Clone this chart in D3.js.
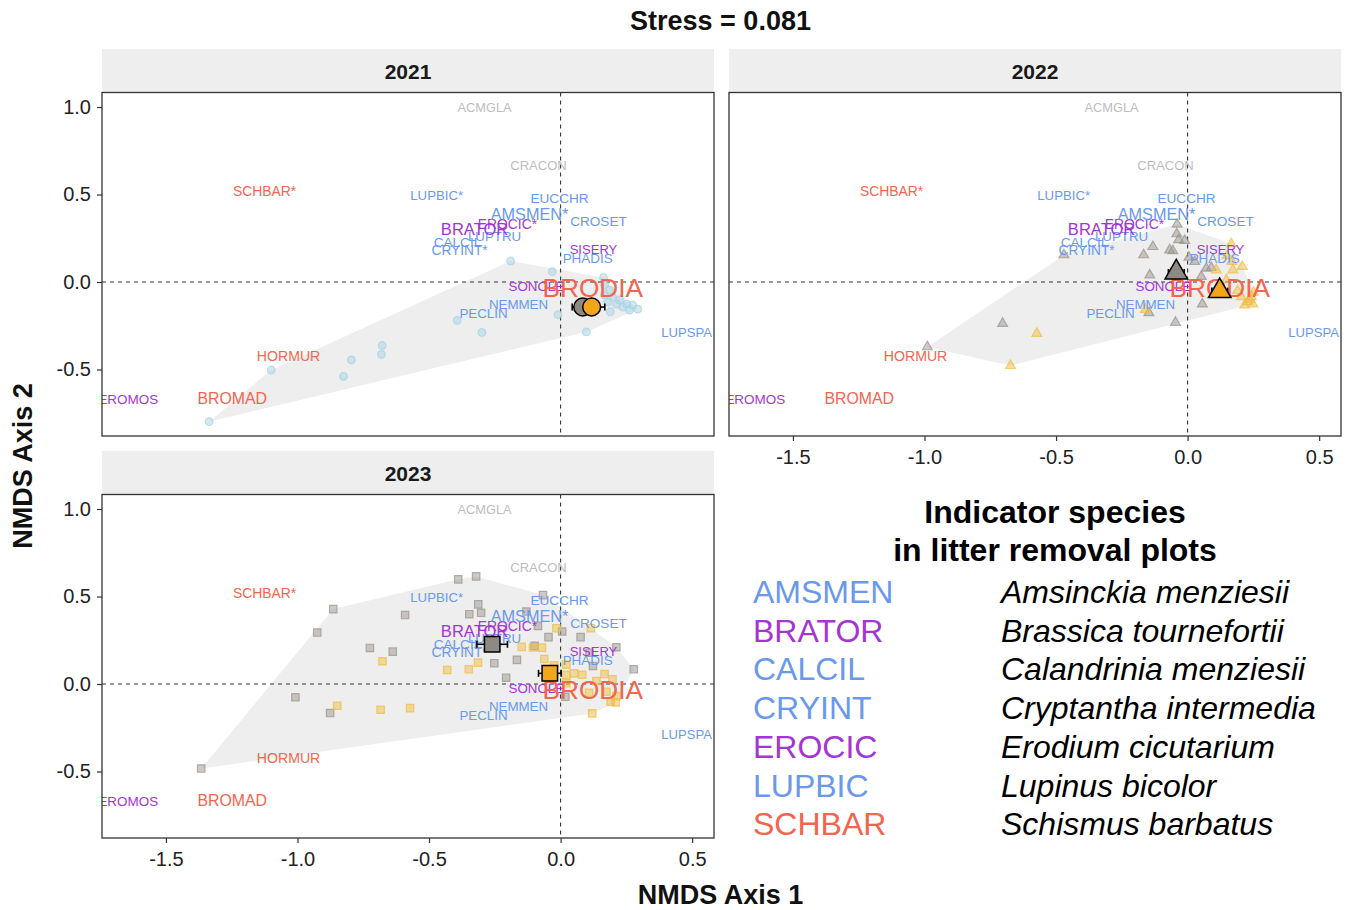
<!DOCTYPE html>
<html><head><meta charset="utf-8">
<script src="https://cdn.jsdelivr.net/npm/d3@7"></script>
<style>
body{margin:0;background:#fff;}
text{font-family:"Liberation Sans",Arial,Helvetica,sans-serif;}
</style>
</head><body>
<svg id="chart" width="1349" height="910"></svg>
<script>
// ---------------- DATA ----------------
const years = ["2021", "2022", "2023"];
const xTicks = [-1.5, -1.0, -0.5, 0.0, 0.5];
const yTicks = [1.0, 0.5, 0.0, -0.5];
const stressValue = 0.081;

// species scores (same in every panel)
const speciesCodes  = ["ACMGLA","CRACON","SCHBAR*","LUPBIC*","EUCCHR","CROSET","LUPTRU","CALCIL","CRYINT*","EROCIC*","AMSMEN*","BRATOR","SISERY","PHADIS","SONOLE","NEMMEN","PECLIN","LUPSPA","HORMUR","EROMOS","BROMAD","BRODIA"];
const speciesX      = [-0.289,-0.084,-1.125,-0.471,-0.004, 0.144,-0.251,-0.392,-0.384,-0.202,-0.118,-0.327, 0.125, 0.103,-0.092,-0.160,-0.293, 0.479,-1.034,-1.643,-1.248, 0.122];
const speciesY      = [ 0.997, 0.665, 0.521, 0.493, 0.476, 0.346, 0.258, 0.225, 0.178, 0.332, 0.390, 0.298, 0.183, 0.132,-0.027,-0.126,-0.178,-0.291,-0.424,-0.670,-0.665,-0.033];
const speciesGroup  = ["other","other","exoticGrass","native","native","native","native","native","native","exoticForb","native","exoticForb","exoticForb","native","exoticForb","native","native","native","exoticGrass","exoticForb","exoticGrass","exoticGrass"];
const speciesWeight = [0.00, 0.02, 0.08, 0.03, 0.06, 0.06, 0.04, 0.06, 0.07, 0.08, 0.26, 0.28, 0.02, 0.05, 0.04, 0.04, 0.04, 0.02, 0.10, 0.05, 0.23, 1.00];

// site scores
const p2021X = [-1.336,-1.100,-0.795,-0.825,-0.678,-0.681,-0.190,-0.032, 0.163,-0.393,-0.299,-0.010, 0.098, 0.189, 0.198, 0.224, 0.251, 0.274, 0.293, 0.262, 0.236, 0.213, 0.179, 0.167, 0.167, 0.186];
const p2021Y = [-0.798,-0.503,-0.445,-0.539,-0.363,-0.414, 0.120, 0.059, 0.025,-0.219,-0.288,-0.187,-0.285,-0.170,-0.086,-0.103,-0.126,-0.132,-0.155,-0.160,-0.143,-0.126,-0.115,-0.074,-0.017,-0.046];

const p2022CtrlX = [-0.989,-0.703,-0.041,-0.034,-0.011,-0.132,-0.167,-0.068,-0.056, 0.005, 0.027,-0.144, 0.071, 0.090, 0.052, 0.056,-0.046,-0.147,-0.040,-0.470];
const p2022CtrlY = [-0.371,-0.237, 0.275, 0.241, 0.237, 0.202, 0.155, 0.183, 0.178, 0.141, 0.117, 0.040, 0.078, 0.082, 0.031,-0.126,-0.231,-0.176, 0.330, 0.155];
const p2022RemX  = [-0.573,-0.673, 0.166, 0.168, 0.172, 0.208, 0.109, 0.204, 0.229, 0.242, 0.217,-0.160, 0.147, 0.248, 0.190, 0.235, 0.250, 0.150];
const p2022RemY  = [-0.294,-0.478, 0.218, 0.117, 0.069, 0.088, 0.069,-0.084,-0.113,-0.084,-0.132,-0.157, 0.011,-0.126,-0.050,-0.100,-0.060, 0.150];

const p2023CtrlX = [-0.864,-0.925,-0.725,-0.638,-0.591,-1.008,-0.876,-1.366,-0.389,-0.321,-0.313,-0.347,-0.302,-0.067,-0.130,-0.086, 0.006,-0.046, 0.076,-0.099,-0.166,-0.252,-0.207, 0.212, 0.278, 0.123, 0.018, 0.110];
const p2023CtrlY = [ 0.428, 0.294, 0.206, 0.185, 0.394,-0.076,-0.166,-0.483, 0.598, 0.615, 0.455, 0.399, 0.407, 0.508, 0.414, 0.332, 0.300, 0.268, 0.268, 0.218, 0.138, 0.119, 0.036, 0.210, 0.084, 0.103,-0.073, 0.179];
const p2023RemX  = [-0.677,-0.849,-0.684,-0.572,-0.016, 0.115,-0.148,-0.105,-0.071,-0.062,-0.025, 0.022,-0.431,-0.349,-0.314, 0.022, 0.051, 0.082, 0.136, 0.167, 0.197, 0.108, 0.174, 0.212, 0.190, 0.209, 0.120, 0.022];
const p2023RemY  = [ 0.130,-0.124,-0.147,-0.138, 0.319, 0.319, 0.212, 0.209, 0.208, 0.143, 0.107, 0.111, 0.080, 0.084, 0.122, 0.052, 0.061, 0.053, 0.017, 0.057, 0.027,-0.050,-0.044,-0.069,-0.101,-0.105,-0.168, 0.004];

// treatment centroids with standard errors
const meanYear  = ["2021","2021","2022","2022","2023","2023"];
const meanTreat = ["control","removal","control","removal","control","removal"];
const meanX     = [ 0.084, 0.118,-0.043, 0.122,-0.260,-0.041];
const meanY     = [-0.143,-0.143, 0.055,-0.052, 0.227, 0.061];
const meanSeX   = [ 0.040, 0.050, 0.030, 0.030, 0.058, 0.043];
const meanSeY   = [ 0.010, 0.010, 0.020, 0.020, 0.020, 0.020];

// legend
const legendCodes = ["AMSMEN","BRATOR","CALCIL","CRYINT","EROCIC","LUPBIC","SCHBAR"];
const legendNames = ["Amsinckia menziesii","Brassica tournefortii","Calandrinia menziesii","Cryptantha intermedia","Erodium cicutarium","Lupinus bicolor","Schismus barbatus"];
const legendGroup = ["native","exoticForb","native","native","exoticForb","native","exoticGrass"];

// ---------------- STYLE / LAYOUT ----------------
const groupColor = {native:"#6A98EC", exoticForb:"#A336D2", exoticGrass:"#F2654F", other:"#BDBDBD"};
const treatColor = {control:"#8E8983", removal:"#F2A71B"};
const pointColor = {control:"#9C968F", removal:"#F0BE45", all:"#A8D4E4"};
const yearShape  = {"2021":d3.symbolCircle, "2022":d3.symbolTriangle, "2023":d3.symbolSquare};
const smallSize  = {"2021":46, "2022":42, "2023":55};
const bigSize    = {"2021":250, "2022":220, "2023":240};

const panelW = 612, panelH = 343.5, stripH = 43.5;
const panelPos = {"2021":{x:102,y:92.5}, "2022":{x:729,y:92.5}, "2023":{x:102,y:494.5}};

const svg = d3.select("#chart");
const x = d3.scaleLinear().domain([-1.743, 0.583]).range([0, panelW]);
const y = d3.scaleLinear().domain([-0.880, 1.083]).range([panelH, 0]);
const fontScale = d3.scaleLinear().domain([0, 1]).range([12.8, 26.2]);

const pointsByYear = {
  "2021": [{t:"all", xs:p2021X, ys:p2021Y}],
  "2022": [{t:"control", xs:p2022CtrlX, ys:p2022CtrlY}, {t:"removal", xs:p2022RemX, ys:p2022RemY}],
  "2023": [{t:"control", xs:p2023CtrlX, ys:p2023CtrlY}, {t:"removal", xs:p2023RemX, ys:p2023RemY}]
};

// title
svg.append("text").attr("x", 720.5).attr("y", 21).attr("text-anchor","middle")
  .attr("dominant-baseline","central").attr("font-size",27).attr("font-weight","bold")
  .attr("fill","#111").text("Stress = " + stressValue.toFixed(3));

years.forEach(yr => {
  const pos = panelPos[yr];
  // strip
  svg.append("rect").attr("x", pos.x).attr("y", pos.y - stripH).attr("width", panelW).attr("height", stripH)
    .attr("fill", "#EEEEEE");
  svg.append("text").attr("x", pos.x + panelW/2).attr("y", pos.y - stripH/2 + 1)
    .attr("text-anchor","middle").attr("dominant-baseline","central")
    .attr("font-size",21).attr("font-weight","bold").attr("fill","#1a1a1a").text(yr);

  const g = svg.append("g").attr("transform", `translate(${pos.x},${pos.y})`);
  const clipId = "clip" + yr;
  g.append("clipPath").attr("id", clipId).append("rect").attr("width", panelW).attr("height", panelH);
  const inner = g.append("g").attr("clip-path", `url(#${clipId})`);

  // hull of all sites
  const all = [];
  pointsByYear[yr].forEach(s => s.xs.forEach((v, i) => all.push([x(v), y(s.ys[i])])));
  const hull = d3.polygonHull(all);
  inner.append("path").attr("d", "M" + hull.join("L") + "Z").attr("fill", "#EBEBEB").attr("fill-opacity", 0.85);

  // reference lines
  inner.append("line").attr("x1", x(0)).attr("x2", x(0)).attr("y1", 0).attr("y2", panelH)
    .attr("stroke","#333").attr("stroke-width",1.1).attr("stroke-dasharray","4,4");
  inner.append("line").attr("x1", 0).attr("x2", panelW).attr("y1", y(0)).attr("y2", y(0))
    .attr("stroke","#333").attr("stroke-width",1.1).attr("stroke-dasharray","4,4");

  // site points
  pointsByYear[yr].forEach(s => {
    const sym = d3.symbol().type(yearShape[yr]).size(smallSize[yr]);
    inner.append("g").selectAll("path").data(s.xs.map((v, i) => [v, s.ys[i]])).join("path")
      .attr("transform", d => `translate(${x(d[0])},${y(d[1])})`)
      .attr("d", sym())
      .attr("fill", pointColor[s.t]).attr("fill-opacity", 0.5)
      .attr("stroke", pointColor[s.t]).attr("stroke-opacity", 0.75).attr("stroke-width", 1.2);
  });

  // species labels
  inner.append("g").selectAll("text").data(speciesCodes.map((c, i) => i)).join("text")
    .attr("x", i => x(speciesX[i])).attr("y", i => y(speciesY[i]))
    .attr("text-anchor","middle").attr("dominant-baseline","central")
    .attr("font-size", i => fontScale(speciesWeight[i]))
    .attr("fill", i => groupColor[speciesGroup[i]])
    .text(i => speciesCodes[i]);

  // centroids with error bars
  const idx = meanYear.map((m, i) => i).filter(i => meanYear[i] === yr);
  const eb = inner.append("g").attr("stroke","#000").attr("stroke-width",1.6);
  idx.forEach(i => {
    const cx = x(meanX[i]), cy = y(meanY[i]);
    const x1 = x(meanX[i] - meanSeX[i]), x2 = x(meanX[i] + meanSeX[i]);
    const y1 = y(meanY[i] - meanSeY[i]), y2 = y(meanY[i] + meanSeY[i]);
    eb.append("line").attr("x1", x1).attr("x2", x2).attr("y1", cy).attr("y2", cy);
    eb.append("line").attr("x1", x1).attr("x2", x1).attr("y1", cy - 3.5).attr("y2", cy + 3.5);
    eb.append("line").attr("x1", x2).attr("x2", x2).attr("y1", cy - 3.5).attr("y2", cy + 3.5);
    eb.append("line").attr("x1", cx).attr("x2", cx).attr("y1", y1).attr("y2", y2);
  });
  idx.forEach(i => {
    inner.append("path")
      .attr("transform", `translate(${x(meanX[i])},${y(meanY[i])})`)
      .attr("d", d3.symbol().type(yearShape[yr]).size(bigSize[yr])())
      .attr("fill", treatColor[meanTreat[i]]).attr("stroke","#000").attr("stroke-width",1.5);
  });

  // panel border
  g.append("rect").attr("width", panelW).attr("height", panelH)
    .attr("fill","none").attr("stroke","#333").attr("stroke-width",1.3);

  // axes
  const fmt = d => d.toFixed(1);
  if (yr !== "2021") {
    const ax = g.append("g").attr("transform", `translate(0,${panelH})`)
      .call(d3.axisBottom(x).tickValues(xTicks).tickFormat(fmt).tickSize(5).tickPadding(9));
    ax.select(".domain").remove();
    ax.selectAll("line").attr("stroke","#333").attr("stroke-width",1.2);
    ax.selectAll("text").attr("font-size",20).attr("fill","#222").attr("font-family",null);
  }
  if (yr !== "2022") {
    const ay = g.append("g")
      .call(d3.axisLeft(y).tickValues(yTicks).tickFormat(fmt).tickSize(5).tickPadding(6));
    ay.select(".domain").remove();
    ay.selectAll("line").attr("stroke","#333").attr("stroke-width",1.2);
    ay.selectAll("text").attr("font-size",20).attr("fill","#222").attr("font-family",null);
  }
});

// axis titles
svg.append("text").attr("x", 720.5).attr("y", 895).attr("text-anchor","middle").attr("dominant-baseline","central")
  .attr("font-size",27).attr("font-weight","bold").attr("fill","#111").text("NMDS Axis 1");
svg.append("text").attr("transform","translate(23,466) rotate(-90)").attr("text-anchor","middle").attr("dominant-baseline","central")
  .attr("font-size",27).attr("font-weight","bold").attr("fill","#111").text("NMDS Axis 2");

// legend
const lg = svg.append("g");
lg.append("text").attr("x",1055).attr("y",512).attr("text-anchor","middle").attr("dominant-baseline","central")
  .attr("font-size",32).attr("font-weight","bold").attr("fill","#000").text("Indicator species");
lg.append("text").attr("x",1055).attr("y",550).attr("text-anchor","middle").attr("dominant-baseline","central")
  .attr("font-size",32).attr("font-weight","bold").attr("fill","#000").text("in litter removal plots");
legendCodes.forEach((c, i) => {
  const yy = 592 + i * 38.7;
  lg.append("text").attr("x",753).attr("y",yy).attr("dominant-baseline","central")
    .attr("font-size",32).attr("fill",groupColor[legendGroup[i]]).text(c);
  lg.append("text").attr("x",1001).attr("y",yy).attr("dominant-baseline","central")
    .attr("font-size",32).attr("font-style","italic").attr("fill","#000").text(legendNames[i]);
});
</script>
</body></html>
